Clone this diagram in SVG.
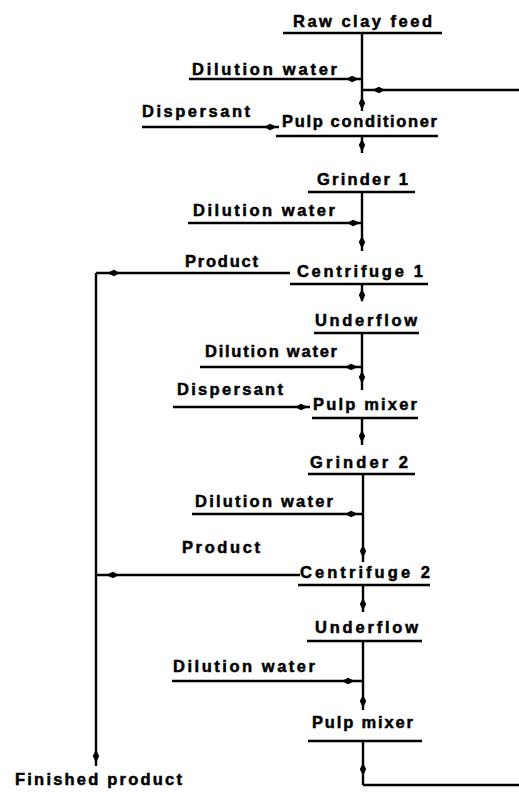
<svg xmlns="http://www.w3.org/2000/svg" width="519" height="794" viewBox="0 0 519 794">
  <style>
    text { font-family: "Liberation Sans", Arial, sans-serif; font-weight: bold; font-size: 16.5px; fill: #000; stroke: #000; stroke-width: 0.5px; }
    .ul { stroke: #000; stroke-width: 2.4; fill: none; }
    .flow { stroke: #000; stroke-width: 2.4; fill: none; marker-mid: url(#ah); }
    .plain { stroke: #000; stroke-width: 2.4; fill: none; }
  </style>
  <defs>
    <marker id="ah" viewBox="-8 -4 16 8" refX="0" refY="0" markerWidth="16" markerHeight="8" markerUnits="userSpaceOnUse" orient="auto">
      <path d="M-7,0 L-1,-3.2 L6,0 L-1,3.2 z" fill="#000"/>
    </marker>
  </defs>
  <rect width="519" height="794" fill="#fff"/>

  <!-- process stages: label with underline -->
  <g id="raw-clay-feed">
    <text x="293" y="27" textLength="139" lengthAdjust="spacing">Raw clay feed</text>
    <line class="ul" x1="283" y1="33" x2="442" y2="33"/>
  </g>
  <g id="pulp-conditioner">
    <text x="282" y="127" textLength="155" lengthAdjust="spacing">Pulp conditioner</text>
    <line class="ul" x1="276" y1="136" x2="438" y2="136"/>
  </g>
  <g id="grinder-1">
    <text x="317" y="185" textLength="91" lengthAdjust="spacing">Grinder 1</text>
    <line class="ul" x1="308" y1="192" x2="415" y2="192"/>
  </g>
  <g id="centrifuge-1">
    <text x="297" y="277" textLength="126" lengthAdjust="spacing">Centrifuge 1</text>
    <line class="ul" x1="290" y1="284" x2="428" y2="284"/>
  </g>
  <g id="underflow-1">
    <text x="315" y="326" textLength="102" lengthAdjust="spacing">Underflow</text>
    <line class="ul" x1="314" y1="333" x2="419" y2="333"/>
  </g>
  <g id="pulp-mixer-1">
    <text x="313" y="410" textLength="104" lengthAdjust="spacing">Pulp mixer</text>
    <line class="ul" x1="312" y1="418" x2="418" y2="418"/>
  </g>
  <g id="grinder-2">
    <text x="310" y="468" textLength="98" lengthAdjust="spacing">Grinder 2</text>
    <line class="ul" x1="308" y1="474" x2="415" y2="474"/>
  </g>
  <g id="centrifuge-2">
    <text x="300" y="578" textLength="130" lengthAdjust="spacing">Centrifuge 2</text>
    <line class="ul" x1="298" y1="585" x2="430" y2="585"/>
  </g>
  <g id="underflow-2">
    <text x="315" y="633" textLength="103" lengthAdjust="spacing">Underflow</text>
    <line class="ul" x1="307" y1="641" x2="422" y2="641"/>
  </g>
  <g id="pulp-mixer-2">
    <text x="312" y="728" textLength="101" lengthAdjust="spacing">Pulp mixer</text>
    <line class="ul" x1="308" y1="741" x2="422" y2="741"/>
  </g>

  <!-- feed and product labels -->
  <g id="dilution-water-1"><text x="192" y="75" textLength="145" lengthAdjust="spacing">Dilution water</text></g>
  <g id="dispersant-1"><text x="142" y="117" textLength="108" lengthAdjust="spacing">Dispersant</text></g>
  <g id="dilution-water-2"><text x="193" y="216" textLength="142" lengthAdjust="spacing">Dilution water</text></g>
  <g id="product-1"><text x="185" y="267" textLength="73" lengthAdjust="spacing">Product</text></g>
  <g id="dilution-water-3"><text x="205" y="357" textLength="132" lengthAdjust="spacing">Dilution water</text></g>
  <g id="dispersant-2"><text x="177" y="395" textLength="106" lengthAdjust="spacing">Dispersant</text></g>
  <g id="dilution-water-4"><text x="195" y="507" textLength="138" lengthAdjust="spacing">Dilution water</text></g>
  <g id="product-2"><text x="182" y="553" textLength="78" lengthAdjust="spacing">Product</text></g>
  <g id="dilution-water-5"><text x="173" y="672" textLength="142" lengthAdjust="spacing">Dilution water</text></g>
  <g id="finished-product"><text x="15" y="785" textLength="167" lengthAdjust="spacing">Finished product</text></g>

  <!-- flow lines; the arrowhead sits on the middle vertex of each path -->
  <g id="connectors">
    <path class="flow" d="M362,33 L362,104 L362,111"/>
    <path class="flow" d="M189,79 L353,79 L362,79"/>
    <path class="flow" d="M519,90 L378,90 L362,90"/>
    <path class="flow" d="M142,127 L271,127 L279,127"/>
    <path class="flow" d="M362,136 L362,146 L362,153"/>
    <path class="flow" d="M362,192 L362,243 L362,251"/>
    <path class="flow" d="M188,223 L354,223 L362,223"/>
    <path class="flow" d="M290,273 L113,273 L96,273"/>
    <path class="flow" d="M96,273 L96,757 L96,766"/>
    <path class="flow" d="M362,284 L362,296 L362,301"/>
    <path class="flow" d="M362,333 L362,378 L362,390"/>
    <path class="flow" d="M200,367 L352,367 L362,367"/>
    <path class="flow" d="M173,407 L302,407 L310,407"/>
    <path class="flow" d="M362,418 L362,437 L362,445"/>
    <path class="flow" d="M363,474 L363,552 L363,562"/>
    <path class="flow" d="M192,514 L352,514 L363,514"/>
    <path class="flow" d="M300,575 L112,575 L96,575"/>
    <path class="flow" d="M363,585 L363,605 L363,612"/>
    <path class="flow" d="M363,641 L363,702 L363,710"/>
    <path class="flow" d="M172,681 L349,681 L363,681"/>
    <path class="flow" d="M363,741 L363,770 L363,785"/>
    <path class="plain" d="M363,785 L519,785"/>
  </g>
</svg>
